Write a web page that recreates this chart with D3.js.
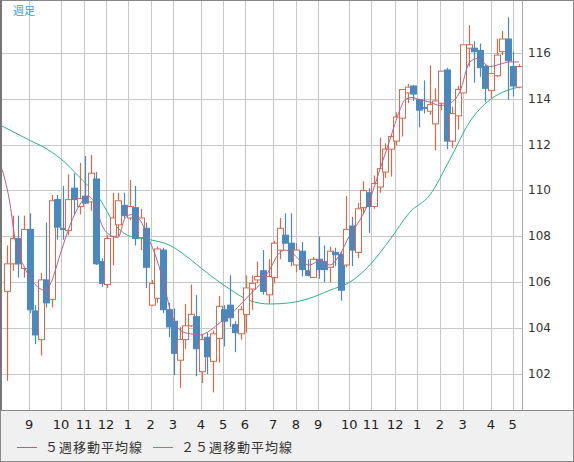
<!DOCTYPE html>
<html><head><meta charset="utf-8">
<script src="https://cdn.jsdelivr.net/npm/d3@7"></script>
<style>body{margin:0;background:#fff;font-family:"Noto Sans CJK JP","DejaVu Sans",sans-serif}</style>
</head><body><svg id="c" width="574" height="462"></svg>
<script>
const opens  =[105.6,106.8,107.9,106.6,108.3,104.75,103.5,106.1,105.25,109.6,108.35,108.25,110.1,109.3,109.75,109.5,110.5,106.9,105.9,108,108.5,109.35,108.8,109.25,107.95,108.35,105,105.3,107.4,104.8,104.3,102.6,103.5,104.1,104.5,102.1,103.6,102.55,103.55,104.8,105,104.15,103.75,104.6,105.7,106.1,106.5,105.45,106.2,107.4,108.05,107.7,106.75,107.35,106.5,106.2,107,106.9,106.65,107.3,107.2,106.75,108.45,107.3,109.25,109.9,109.3,110.15,110.8,111.8,112.15,113.15,114.25,114.55,113.95,113.62,113.45,112.9,113.8,115.25,112.15,113.25,114.25,116.2,116.2,116.1,115.4,114.35,115,116.05,116.6,115.4,114.5];
const closes =[106.8,107.9,106.8,108.3,104.8,103.7,106.1,105.1,109.55,108.4,108.3,109.6,109.6,109.65,109.45,110.75,106.8,105.95,107.9,108.8,109.55,108.9,109.3,107.9,108.8,106.65,105.95,107.45,104.8,104.05,102.9,103.5,104.1,104.6,103.1,103.5,102.75,103.75,104.95,104.3,104.45,103.8,104.8,105.75,105.95,106.25,105.6,106.25,107.7,108.35,107.7,106.9,107.4,106.55,106.3,107,106.55,106.55,107.35,107.2,105.65,108.3,107.4,109.2,110,109.3,110.3,110.95,111.8,112.35,113.2,114.4,114.5,114.2,113.5,113.6,113.75,113.9,115.2,112.15,113.35,114.4,116.35,116.35,116.05,115.35,114.45,115.1,115.9,116.6,115.65,114.55,115.4];
const highs  =[107.6,108.9,108.9,108.9,109,105,106.4,108.6,109.8,109.8,110.2,110.7,110.75,111.2,111.5,111.55,110.8,107.05,108.05,109.9,109.9,109.9,110.45,110.2,109.2,108.6,106.1,107.55,107.5,105.1,104.85,104.05,105.05,105.9,105.45,103.75,103.8,103.9,105.4,105,106.3,104.3,104.95,106.3,106.3,106.9,107.4,107,107.8,108.8,109,109,107.7,107.75,107,107.1,108,107.6,107.55,107.5,107.35,109.75,108.85,109.45,110.4,110.1,110.65,112.3,112.05,112.4,113.4,114.4,114.65,114.6,114,114.8,115.45,114.45,115.2,115.35,113.65,114.55,116.35,117.2,116.5,116.4,115.5,115.1,116.6,116.95,117.55,116.05,115.5];
const lows   =[101.7,106.5,106.2,106.2,104.65,103.3,102.8,104.9,104.9,107.85,107.85,108.05,108.95,108.95,109.4,109.1,106.75,105.8,105.75,106.75,108,108.8,108.7,107.6,107.4,105.75,104.95,105.1,104.65,103.6,101.95,101.4,103.1,104.05,101.9,101.6,102,101.2,102.5,103.2,104.05,102.95,103.5,103.8,104.8,105.95,105.45,105.05,105.95,107,107.7,106.7,106.45,106.25,106.25,106.2,106.15,106,106,106.7,105.2,106.65,106.7,107.05,109,108.15,109.2,109.9,110.55,110.6,111.95,112.35,113.8,113.9,112.75,113.35,113.3,111.75,113.5,111.8,111.85,112.65,114.25,115.4,114.7,114.95,113.85,114,114.95,115.9,113.95,114.1,114.45];
// moving averages: [week index, value]
const ma5  =[[-0.9,110.9],[0.5,109.4],[1.4,107.85],[3.2,106.6],[5,105.9],[6.8,105.65],[7.7,105.9],[9.5,107.2],[11.3,108.5],[13.1,109.4],[14.5,109.75],[15.8,109.4],[17,108.5],[18.5,108.05],[19.9,107.95],[21.2,108.8],[22.4,108.95],[23.9,108.7],[25.3,107.95],[26.6,107.2],[28,106.1],[29.3,104.8],[31.1,103.9],[32.9,103.75],[34.7,103.7],[36.5,103.9],[38.3,104.25],[40,104.55],[41.8,105],[43.6,105.45],[45.4,105.9],[47.2,106.55],[48.7,107.2],[49.9,107.4],[51.2,107.3],[52.6,106.95],[54.4,106.75],[56.2,106.95],[58,106.75],[59.8,107.2],[61.6,108.05],[63.4,108.7],[65.2,109.6],[67,110.9],[68.8,112.2],[70.6,113.5],[71.5,113.95],[72.8,114.05],[74.2,113.95],[76,113.85],[77.8,113.7],[79.6,113.8],[81.4,114.3],[83.2,115.6],[84.6,115.75],[86.8,115.4],[88.6,115.5],[90.4,115.6],[92,115.6]];
const ma25 =[[-1.3,112.85],[3.9,112.2],[6.8,111.85],[9.5,111.4],[13.1,110.55],[16.7,109.6],[19.4,108.5],[22.1,108],[25.7,107.85],[29.3,107.6],[32.9,107],[36.5,106.3],[40,105.7],[43.6,105.2],[47.2,105.05],[50.8,105.1],[54.4,105.3],[58,105.65],[61.6,106],[65.2,106.75],[68.8,107.85],[72.4,109.05],[76,109.8],[79.6,111.35],[83.2,113],[86.8,113.95],[90.4,114.4],[92,114.5]];
const yTicks=[102,104,106,108,110,112,114,116];
const monthIdx=[3.95,9.66,13.8,17.75,21.7,25.8,29.8,34.8,38.8,42.75,47.8,51.9,55.9,61.5,65.4,69.8,73.7,77.8,81.9,87,90.9];
const monthLabels=["9","10","11","12","1","2","3","4","5","6","7","8","9","10","11","12","1","2","3","4","5"];

const svg=d3.select("#c");
const W=574,H=462,PR=522,PB=410;
const x=d3.scaleLinear().domain([0,92]).range([7.3,518.8]);
const y=d3.scaleLinear().domain([100.43,118.3]).range([PB,0]);
svg.append("rect").attr("x",0).attr("y",PB).attr("width",W).attr("height",H-PB).attr("fill","#f0f0f0");
const g=svg.append("g");
g.selectAll(".hg").data(yTicks).join("line").attr("x1",1).attr("x2",PR).attr("y1",d=>Math.round(y(d))+.5).attr("y2",d=>Math.round(y(d))+.5).attr("stroke","#c8c8c8");
g.selectAll(".vg").data(monthIdx).join("line").attr("x1",d=>Math.round(x(d))+.5).attr("x2",d=>Math.round(x(d))+.5).attr("y1",0).attr("y2",PB).attr("stroke","#c8c8c8");
svg.append("line").attr("x1",PR+.5).attr("x2",PR+.5).attr("y1",0).attr("y2",PB).attr("stroke","#aaa");
svg.append("line").attr("x1",0).attr("x2",W).attr("y1",PB+.5).attr("y2",PB+.5).attr("stroke","#888");
svg.append("rect").attr("x",.5).attr("y",.5).attr("width",W-1).attr("height",H-1).attr("fill","none").attr("stroke","#888");
svg.append("line").attr("x1",1).attr("x2",1).attr("y1",0).attr("y2",PB).attr("stroke","#777").attr("stroke-width",2);

const line=d3.line().x(d=>x(d[0])).y(d=>y(d[1])).curve(d3.curveMonotoneX);
const clip=svg.append("clipPath").attr("id","cp").append("rect").attr("x",2).attr("y",0).attr("width",PR-2).attr("height",PB);
const pg=svg.append("g").attr("clip-path","url(#cp)");
pg.append("path").attr("d",line(ma25)).attr("fill","none").attr("stroke","#2eb37c").attr("stroke-width",1);

const idx=d3.range(opens.length);
const RED="#d9694a",BLUE="#4a89c0";
const col=i=>closes[i]>=opens[i]?RED:BLUE;
pg.selectAll(".w").data(idx).join("line").attr("x1",i=>Math.round(x(i))+.5).attr("x2",i=>Math.round(x(i))+.5)
 .attr("y1",i=>y(highs[i])).attr("y2",i=>y(lows[i])).attr("stroke",col).attr("stroke-width",1.2);
pg.selectAll(".b").data(idx).join("rect").attr("x",i=>Math.round(x(i))-2.5).attr("width",6)
 .attr("y",i=>y(Math.max(opens[i],closes[i]))).attr("height",i=>Math.max(1,Math.abs(y(opens[i])-y(closes[i]))))
 .attr("fill",i=>closes[i]>=opens[i]?"#fff":BLUE).attr("stroke",col).attr("stroke-width",1);
pg.append("path").attr("d",line(ma5)).attr("fill","none").attr("stroke","#b0628c").attr("stroke-width",1);

svg.selectAll(".yl").data(yTicks).join("text").attr("x",528).attr("y",d=>y(d)+4).text(d=>d)
 .attr("font-size",12).attr("fill","#333").attr("font-family","DejaVu Sans, sans-serif");
svg.selectAll(".xl").data(monthIdx).join("text").attr("x",d=>x(d)).attr("y",429).attr("text-anchor","middle").text((d,i)=>monthLabels[i])
 .attr("font-size",13).attr("fill","#222").attr("font-family","DejaVu Sans, sans-serif");
svg.append("text").attr("x",13).attr("y",15).text("週足").attr("font-size",11).attr("fill","#3a9ad9");
const leg=[["５週移動平均線","#b0628c",17],["２５週移動平均線","#2eb37c",153]];
leg.forEach(([t,c,lx])=>{
 svg.append("line").attr("x1",lx).attr("x2",lx+20).attr("y1",447.5).attr("y2",447.5).attr("stroke",c);
 svg.append("text").attr("x",lx+28).attr("y",452).text(t).attr("font-size",13).attr("fill","#333").attr("letter-spacing",1);
});
</script></body></html>
